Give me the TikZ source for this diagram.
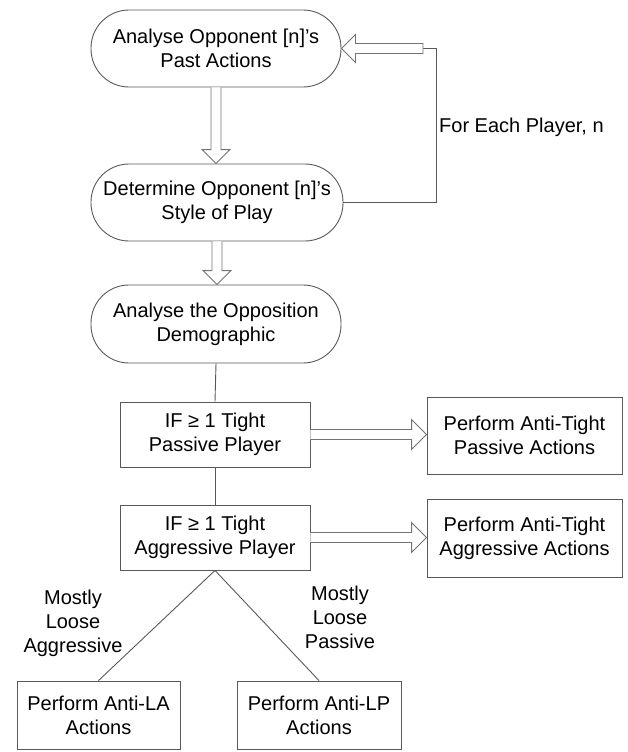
\documentclass[tikz,border=0pt]{standalone}
\usepackage{fontspec}
\setmainfont{Liberation Sans}
\usetikzlibrary{calc}
\begin{document}
\begin{tikzpicture}[x=1pt,y=-1pt,
  lc/.style={draw=black!65,line width=0.9pt},
  txt/.style={font=\fontsize{20}{24}\selectfont,align=center,text=black},
  stad/.style={lc,txt,rectangle,rounded corners=38pt,inner sep=0pt},
  boxn/.style={lc,txt,rectangle,inner sep=0pt},
  hollow/.style={draw=black!55,line width=0.9pt,fill=white,line join=miter}
]
\useasboundingbox (0,0) rectangle (627,752);
% nodes
\node[stad,minimum width=250pt,minimum height=77pt] (A) at (216,48.5) {Analyse Opponent [n]'s\\Past Actions};
\node[stad,minimum width=252pt,minimum height=77pt] (B) at (217,202.5) {Determine Opponent [n]'s\\Style of Play};
\node[stad,minimum width=250pt,minimum height=78pt] (C) at (216,324) {Analyse the Opposition\\Demographic};
\node[boxn,minimum width=190pt,minimum height=65pt] (D) at (215,434.5) {IF ≥ 1 Tight\\Passive Player};
\node[boxn,minimum width=190pt,minimum height=65pt] (E) at (215,537.5) {IF ≥ 1 Tight\\Aggressive Player};
\node[boxn,minimum width=195pt,minimum height=77pt] (F) at (524.5,435.5) {Perform Anti-Tight\\Passive Actions};
\node[boxn,minimum width=195pt,minimum height=78pt] (G) at (524.5,538) {Perform Anti-Tight\\Aggressive Actions};
\node[boxn,minimum width=163pt,minimum height=68pt] (H) at (98.5,715) {Perform Anti-LA\\Actions};
\node[boxn,minimum width=164pt,minimum height=68pt] (I) at (319,715) {Perform Anti-LP\\Actions};
% labels
\node[txt] (LA) at (73,623) {Mostly\\Loose\\Aggressive};
\node[txt] (LP) at (340,617) {Mostly\\Loose\\Passive};
\node[txt,anchor=west,inner sep=0pt] (FE) at (439,127) {For Each Player, n};
% plain connectors
\draw[lc] (C.south) -- (D.north);
\draw[lc] (D.south) -- (E.north);
\draw[lc] (E.south) -- (H.north);
\draw[lc] (E.south) -- (I.north);
% hollow vertical arrows
\draw[hollow] ($(A.south)+(-5,0)$) -- ($(A.south|-B.north)+(-5,-14)$) -- ($(A.south|-B.north)+(-14,-14)$)
  -- (A.south|-B.north) -- ($(A.south|-B.north)+(14,-14)$) -- ($(A.south|-B.north)+(5,-14)$) -- ($(A.south)+(5,0)$);
\draw[hollow] ($(B.south)+(-5,0)$) -- ($(B.south|-C.north)+(-5,-14)$) -- ($(B.south|-C.north)+(-14,-14)$)
  -- (B.south|-C.north) -- ($(B.south|-C.north)+(14,-14)$) -- ($(B.south|-C.north)+(5,-14)$) -- ($(B.south)+(5,0)$);
% hollow horizontal arrows
\draw[hollow] ($(D.east)+(0,-5)$) -- ($(D.east-|F.west)+(-15,-5)$) -- ($(D.east-|F.west)+(-15,-15)$)
  -- (D.east-|F.west) -- ($(D.east-|F.west)+(-15,15)$) -- ($(D.east-|F.west)+(-15,5)$) -- ($(D.east)+(0,5)$);
\draw[hollow] ($(E.east)+(0,-5)$) -- ($(E.east-|G.west)+(-15,-5)$) -- ($(E.east-|G.west)+(-15,-15)$)
  -- (E.east-|G.west) -- ($(E.east-|G.west)+(-15,15)$) -- ($(E.east-|G.west)+(-15,5)$) -- ($(E.east)+(0,5)$);
% feedback loop
\coordinate (K1) at (436,202.5);
\coordinate (K2) at (436,48.5);
\coordinate (K3) at (423,48.5);
\draw[lc] (B.east) -- (K1) -- (K2) -- (K3);
\draw[hollow] ($(K3)+(0,-5)$) -- ($(A.east)+(14,-5)$) -- ($(A.east)+(14,-14)$) -- (A.east)
  -- ($(A.east)+(14,14)$) -- ($(A.east)+(14,5)$) -- ($(K3)+(0,5)$) -- cycle;
\end{tikzpicture}
\end{document}
